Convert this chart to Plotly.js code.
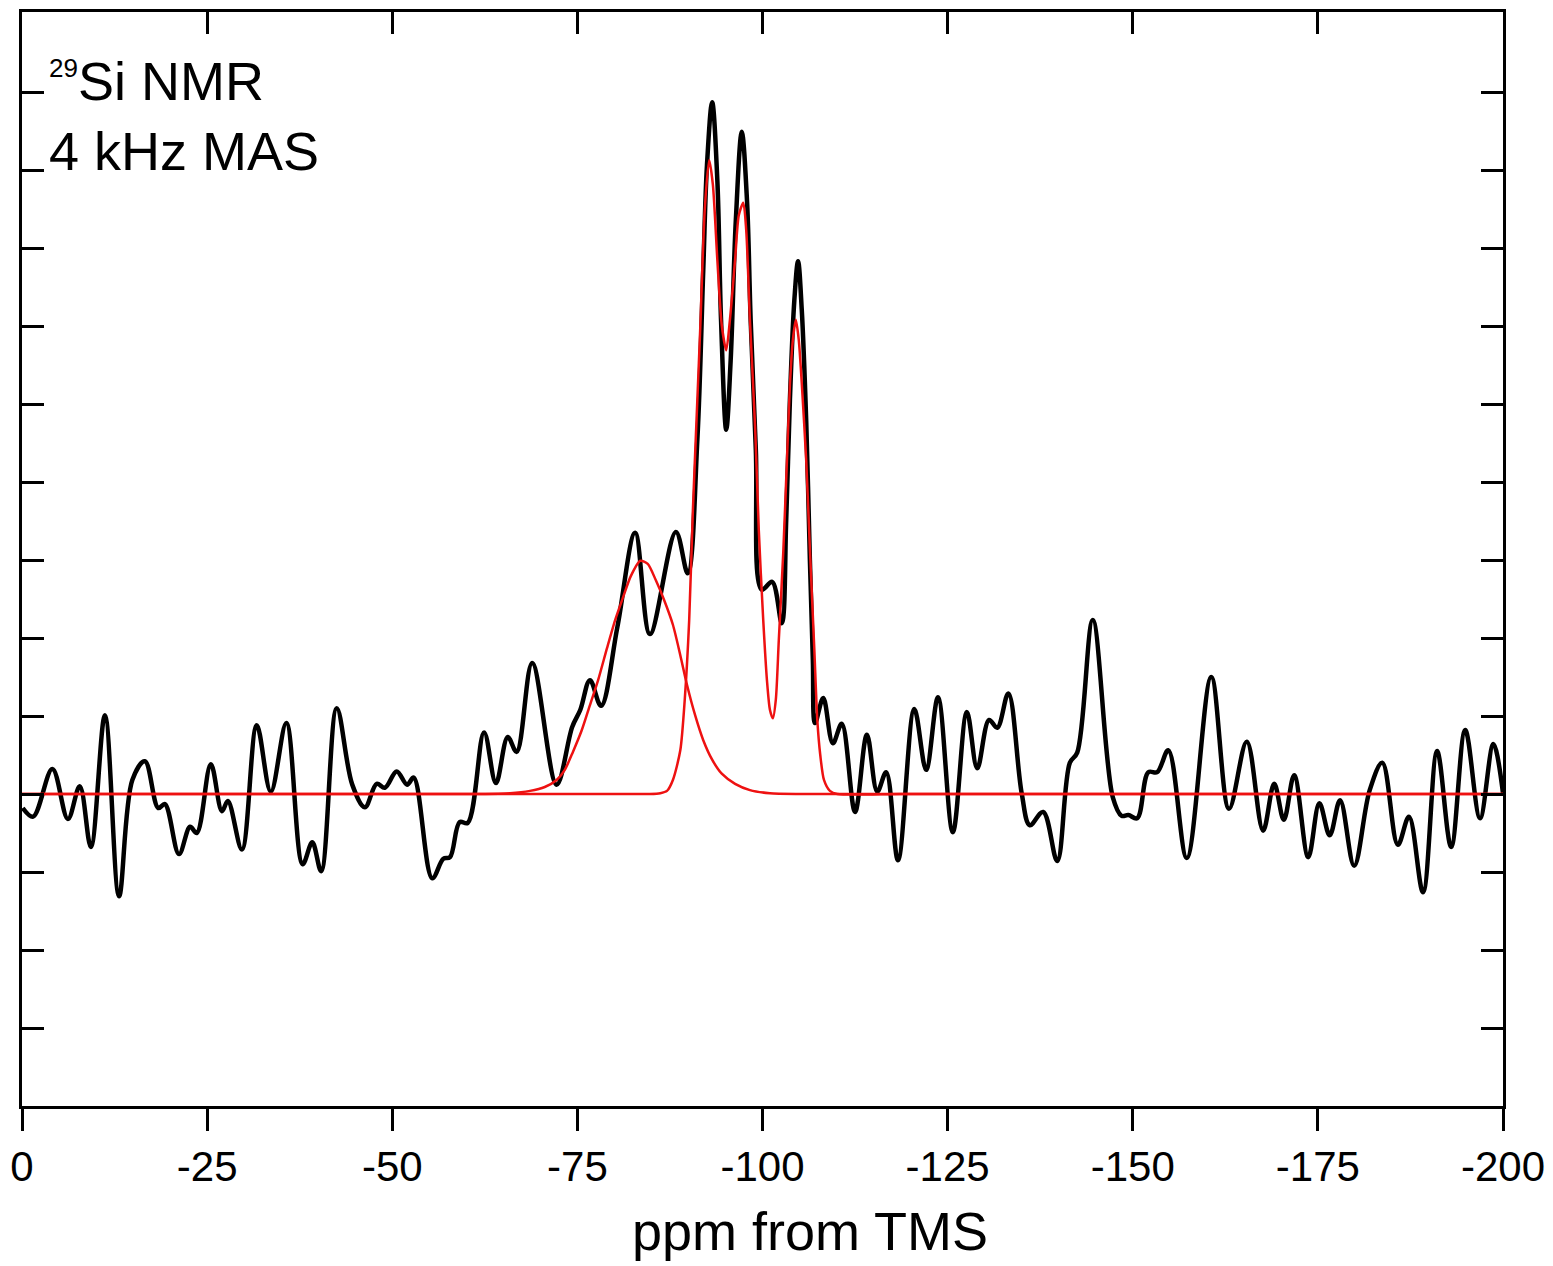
<!DOCTYPE html>
<html>
<head>
<meta charset="utf-8">
<script src="https://cdn.plot.ly/plotly-3.0.1.min.js"></script>
<style>html,body{margin:0;padding:0;background:#fff;}#chart{width:1553px;height:1266px;}</style>
</head>
<body>
<div id="chart"></div>
<script>
// Experimental 29Si spectrum (black)
var spectrumPpm = [-0.1,-1.5,-4.1,-6.2,-7.8,-9.3,-11.2,-13.1,-14.9,-16.6,-18.4,-19.3,-21.2,-22.7,-23.6,-25.5,-27.0,-27.8,-29.7,-31.7,-33.6,-35.7,-37.9,-39.2,-40.4,-42.5,-44.6,-46.3,-47.9,-49.0,-50.6,-52.0,-52.9,-55.4,-56.9,-57.8,-59.1,-60.2,-62.4,-64.0,-65.6,-66.8,-68.9,-72.2,-74.3,-75.4,-76.7,-78.2,-80.4,-82.8,-84.8,-88.3,-89.9,-91.2,-92.0,-92.5,-93.2,-93.9,-94.4,-95.1,-95.7,-96.4,-97.2,-97.9,-98.4,-99.1,-99.9,-101.3,-102.6,-103.2,-103.7,-104.3,-104.8,-105.3,-105.9,-106.4,-106.8,-107.1,-108.2,-109.5,-110.7,-112.5,-114.1,-115.5,-116.7,-118.3,-120.5,-122.1,-123.7,-125.7,-127.6,-129.0,-130.6,-131.7,-133.2,-135.0,-136.1,-137.9,-139.8,-141.5,-142.5,-144.6,-147.3,-148.5,-149.4,-150.6,-152.1,-153.3,-154.8,-157.3,-160.6,-163.0,-165.4,-167.6,-169.1,-170.4,-171.8,-173.7,-175.2,-176.6,-178.0,-179.9,-182.0,-183.7,-185.8,-187.3,-189.2,-191.1,-193.0,-194.9,-196.9,-198.7,-200.0];
var spectrumInt = [-0.18,-0.29,0.32,-0.32,0.10,-0.68,1.01,-1.31,0.18,0.42,-0.18,-0.13,-0.77,-0.42,-0.50,0.38,-0.22,-0.09,-0.71,0.88,0.03,0.91,-0.90,-0.62,-0.99,1.10,0.12,-0.17,0.13,0.08,0.29,0.12,0.21,-1.08,-0.83,-0.81,-0.36,-0.37,0.79,0.14,0.73,0.54,1.68,0.12,0.86,1.08,1.46,1.13,2.14,3.35,2.05,3.36,2.83,4.54,6.72,8.06,8.87,7.87,6.08,4.67,5.56,7.36,8.49,7.62,6.08,4.41,2.62,2.72,2.19,3.51,5.05,6.33,6.83,6.21,4.79,3.00,1.72,0.91,1.23,0.65,0.90,-0.23,0.76,0.03,0.28,-0.85,1.09,0.31,1.24,-0.49,1.05,0.33,0.95,0.85,1.29,0.01,-0.40,-0.23,-0.86,0.40,0.53,2.23,-0.04,-0.28,-0.27,-0.31,0.28,0.28,0.56,-0.82,1.50,-0.19,0.67,-0.47,0.13,-0.33,0.24,-0.81,-0.12,-0.53,-0.08,-0.92,0.05,0.40,-0.65,-0.29,-1.26,0.55,-0.68,0.82,-0.31,0.64,0.01];

// Fitted broad component (red)
var broadPpm = [0,-25,-51.0,-61.8,-65.9,-68.6,-70.6,-72.2,-73.3,-74.4,-75.6,-76.7,-77.8,-79.0,-80.1,-81.2,-82.2,-83.5,-84.5,-85.6,-86.7,-87.9,-88.9,-89.8,-90.9,-92.0,-93.2,-94.5,-96.3,-98.3,-101.0,-105.1,-125,-150,-175,-200];
var broadInt = [0,0,0,0,0.01,0.04,0.09,0.18,0.31,0.54,0.82,1.14,1.46,1.87,2.23,2.53,2.79,2.99,2.95,2.74,2.49,2.17,1.78,1.40,1.01,0.69,0.44,0.26,0.13,0.05,0.01,0,0,0,0,0];

// Fitted narrow components (red, summed)
var narrowPpm = [0,-25,-50,-70,-78.1,-84.8,-86.2,-87.1,-87.9,-88.9,-89.5,-90.1,-90.6,-91.2,-91.6,-92.2,-92.8,-93.3,-93.9,-94.5,-95.1,-95.6,-96.3,-96.8,-97.4,-97.8,-98.3,-99.0,-99.5,-100.1,-100.6,-101.0,-101.4,-101.8,-102.2,-102.8,-103.3,-103.7,-104.1,-104.5,-104.9,-105.3,-105.9,-106.4,-107.0,-107.4,-107.8,-108.3,-109.1,-110.1,-118.6,-130,-150,-175,-200];
var narrowInt = [0,0,0,0,0,0,0.01,0.04,0.18,0.56,1.21,2.23,3.64,5.05,5.99,7.49,8.13,7.81,6.85,6.01,5.69,6.08,6.85,7.42,7.58,7.23,6.08,4.71,3.38,2.23,1.46,1.08,0.97,1.21,1.97,3.09,4.28,5.24,5.82,6.08,5.82,5.27,4.28,3.14,1.85,0.95,0.50,0.18,0.04,0,0,0,0,0,0];

var xTickVals = [0,-25,-50,-75,-100,-125,-150,-175,-200];
var xTickText = ['0','-25','-50','-75','-100','-125','-150','-175','-200'];
var yTickVals = [-3,-2,-1,0,1,2,3,4,5,6,7,8,9];

var FONT = 'Liberation Sans, Arial, Helvetica, sans-serif';

var traces = [
  {x: spectrumPpm, y: spectrumInt, type: 'scatter', mode: 'lines',
   line: {color: '#000000', width: 4.5, shape: 'spline', smoothing: 1.0},
   hoverinfo: 'x+y', showlegend: false},
  {x: broadPpm, y: broadInt, type: 'scatter', mode: 'lines', xaxis: 'x2', yaxis: 'y',
   line: {color: '#ee1111', width: 2.5, shape: 'spline', smoothing: 0.7},
   showlegend: false},
  {x: narrowPpm, y: narrowInt, type: 'scatter', mode: 'lines',
   line: {color: '#ee1111', width: 2.5, shape: 'spline', smoothing: 0.7},
   showlegend: false}
];

var layout = {
  width: 1553, height: 1266, autosize: false,
  margin: {l: 22, r: 50, t: 12, b: 160, pad: 0},
  paper_bgcolor: '#ffffff', plot_bgcolor: '#ffffff',
  font: {family: FONT, color: '#000000'},
  showlegend: false,
  xaxis: {
    range: [0, -200], tickmode: 'array', tickvals: xTickVals, ticktext: xTickText,
    ticks: 'outside', ticklen: 22, tickwidth: 3, tickcolor: '#000',
    showline: true, linewidth: 3, linecolor: '#000', mirror: false,
    showgrid: false, zeroline: false,
    tickfont: {family: FONT, size: 42, color: '#000'}
  },
  xaxis2: {
    range: [0, -200], overlaying: 'x', side: 'top', anchor: 'y',
    tickmode: 'array', tickvals: xTickVals, showticklabels: false,
    ticks: 'inside', ticklen: 22, tickwidth: 3, tickcolor: '#000',
    showline: true, linewidth: 3, linecolor: '#000',
    showgrid: false, zeroline: false
  },
  yaxis: {
    range: [-4.0, 10.026], tickmode: 'array', tickvals: yTickVals, showticklabels: false,
    ticks: 'inside', ticklen: 22, tickwidth: 3, tickcolor: '#000',
    showline: true, linewidth: 3, linecolor: '#000', mirror: 'ticks',
    showgrid: false, zeroline: false
  },
  annotations: [
    {xref: 'paper', yref: 'paper', x: 0.5321, y: -0.086, xanchor: 'center', yanchor: 'top',
     text: 'ppm from TMS', showarrow: false, borderpad: 0,
     font: {family: FONT, size: 54, color: '#000'}},
    {xref: 'paper', yref: 'paper', x: 0.0175, y: 0.9655, xanchor: 'left', yanchor: 'top', align: 'left',
     text: '<sup><span style="font-size:26px">29</span></sup>Si NMR<br>4 kHz MAS', showarrow: false,
     borderpad: 0, font: {family: FONT, size: 54, color: '#000'}}
  ]
};

Plotly.newPlot('chart', traces, layout, {staticPlot: true, displayModeBar: false});
</script>
</body>
</html>
